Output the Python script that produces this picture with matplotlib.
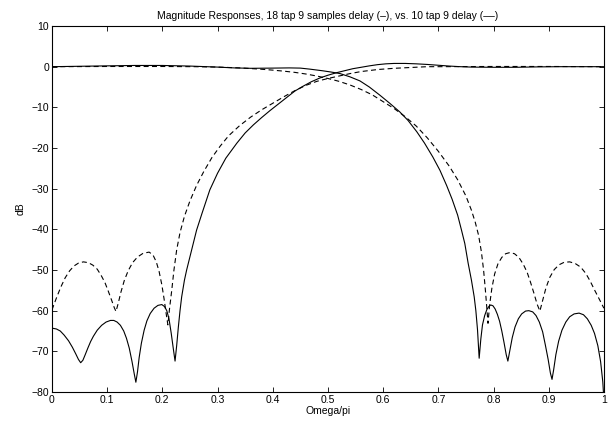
import matplotlib
matplotlib.use('Agg')
import matplotlib.pyplot as plt

plt.rcParams['font.family'] = ['Liberation Sans', 'DejaVu Sans']

# 18 tap filter pair (solid)
s_lp_x = [0.000, 0.050, 0.100, 0.150, 0.200, 0.250, 0.300, 0.330, 0.360, 0.400, 0.430, 0.450,
          0.467, 0.490, 0.505, 0.522, 0.540, 0.558, 0.575, 0.594, 0.612, 0.630, 0.645, 0.661,
          0.675, 0.690, 0.703, 0.715, 0.725, 0.735, 0.742, 0.748, 0.754, 0.760, 0.765, 0.768,
          0.771, 0.774, 0.777, 0.780, 0.784, 0.788, 0.792, 0.795, 0.799, 0.803, 0.807, 0.811,
          0.815, 0.819, 0.823, 0.826, 0.830, 0.834, 0.839, 0.845, 0.851, 0.858, 0.864, 0.871,
          0.877, 0.883, 0.889, 0.894, 0.899, 0.903, 0.906, 0.909, 0.913, 0.918, 0.924, 0.931,
          0.938, 0.946, 0.955, 0.963, 0.970, 0.977, 0.983, 0.989, 0.994, 0.998, 1.000]
s_lp_db = [0.0, 0.1, 0.2, 0.3, 0.3, 0.15, -0.1, -0.3, -0.4, -0.35, -0.3, -0.35,
           -0.6, -1.0, -1.3, -1.7, -2.5, -3.5, -5.0, -7.0, -9.0, -11.1, -13.2, -16.0,
           -18.8, -22.2, -25.5, -29.2, -32.6, -36.5, -40.2, -43.5, -48.3, -52.5, -56.6, -60.0,
           -64.7, -71.7, -67.0, -63.5, -61.2, -59.7, -58.9, -58.6, -58.8, -59.6, -60.9, -62.6,
           -65.0, -67.8, -70.8, -72.4, -69.5, -66.6, -64.0, -62.0, -60.8, -60.1, -60.0, -60.3,
           -61.2, -62.8, -65.2, -68.5, -72.0, -75.3, -76.9, -74.5, -70.8, -67.5, -64.8, -62.8,
           -61.5, -60.8, -60.6, -61.0, -62.0, -63.6, -65.6, -68.6, -72.5, -77.5, -82.0]

s_hp_x = [0.000, 0.008, 0.015, 0.022, 0.030, 0.037, 0.043, 0.048, 0.052, 0.056, 0.060, 0.065,
          0.070, 0.075, 0.082, 0.090, 0.098, 0.106, 0.112, 0.118, 0.124, 0.130, 0.135, 0.140,
          0.145, 0.149, 0.152, 0.155, 0.158, 0.162, 0.167, 0.172, 0.178, 0.185, 0.192, 0.199,
          0.204, 0.208, 0.212, 0.216, 0.220, 0.223, 0.226, 0.229, 0.232, 0.235, 0.240, 0.244,
          0.253, 0.262, 0.272, 0.286, 0.300, 0.315, 0.335, 0.350, 0.365, 0.380, 0.395, 0.410,
          0.425, 0.440, 0.455, 0.470, 0.485, 0.500, 0.515, 0.530, 0.545, 0.560, 0.575, 0.590,
          0.605, 0.620, 0.640, 0.660, 0.680, 0.700, 0.720, 0.740, 0.760, 0.800, 0.840, 0.880,
          0.920, 0.960, 1.000]
s_hp_db = [-64.3, -64.5, -65.0, -66.0, -67.4, -69.0, -70.6, -72.0, -72.8, -72.2, -70.9, -69.2,
           -67.6, -66.3, -64.8, -63.6, -62.8, -62.4, -62.4, -62.8, -63.6, -65.0, -66.8, -69.2,
           -72.5, -75.5, -77.6, -75.0, -71.5, -68.0, -64.8, -62.5, -60.7, -59.4, -58.7, -58.5,
           -59.0, -60.0, -62.0, -65.5, -69.5, -72.4, -68.5, -64.0, -60.0, -56.6, -52.5, -50.0,
           -45.1, -40.2, -36.0, -30.3, -26.2, -22.5, -18.8, -16.3, -14.3, -12.5, -10.8, -9.2,
           -7.6, -6.0, -4.8, -3.7, -2.8, -2.1, -1.5, -1.0, -0.5, -0.15, 0.2, 0.5,
           0.7, 0.8, 0.8, 0.7, 0.55, 0.35, 0.15, 0.0, -0.1, -0.15, -0.15, -0.05,
           0.0, 0.0, 0.0]

# 10 tap filter pair (dashed)
d_lp_x = [0.000, 0.100, 0.200, 0.260, 0.300, 0.340, 0.377, 0.400, 0.420, 0.440, 0.460, 0.480,
          0.500, 0.520, 0.540, 0.560, 0.580, 0.600, 0.620, 0.640, 0.660, 0.680, 0.700, 0.720,
          0.735, 0.750, 0.760, 0.767, 0.773, 0.778, 0.782, 0.785, 0.788, 0.790, 0.793, 0.797,
          0.802, 0.808, 0.815, 0.822, 0.830, 0.838, 0.846, 0.854, 0.861, 0.867, 0.873, 0.879,
          0.884, 0.889, 0.895, 0.902, 0.910, 0.919, 0.928, 0.938, 0.948, 0.958, 0.967, 0.975,
          0.983, 0.991, 1.000]
d_lp_db = [0.0, 0.05, 0.05, 0.0, -0.1, -0.3, -0.6, -0.85, -1.1, -1.4, -1.8, -2.3,
           -2.9, -3.6, -4.5, -5.6, -6.9, -8.6, -10.3, -12.3, -14.6, -17.5, -20.8, -24.5,
           -27.8, -31.8, -35.3, -38.3, -41.5, -45.5, -50.0, -54.5, -59.5, -63.1, -58.5, -54.5,
           -51.0, -48.5, -46.9, -46.0, -45.7, -46.0, -46.9, -48.6, -50.6, -53.0, -55.6, -58.4,
           -60.1, -57.5, -54.4, -51.8, -49.9, -48.7, -48.1, -48.0, -48.4, -49.3, -50.8, -52.7,
           -54.9, -57.0, -59.4]

d_hp_x = [0.000, 0.008, 0.016, 0.024, 0.032, 0.040, 0.048, 0.057, 0.066, 0.074, 0.082, 0.089,
          0.096, 0.102, 0.108, 0.113, 0.116, 0.120, 0.125, 0.131, 0.138, 0.146, 0.155, 0.165,
          0.176, 0.183, 0.189, 0.194, 0.199, 0.203, 0.207, 0.210, 0.213, 0.217, 0.221, 0.226,
          0.232, 0.240, 0.250, 0.262, 0.275, 0.290, 0.305, 0.320, 0.340, 0.360, 0.380, 0.400,
          0.420, 0.440, 0.460, 0.480, 0.500, 0.520, 0.540, 0.560, 0.590, 0.620, 0.650, 0.680,
          0.700, 0.800, 0.900, 1.000]
d_hp_db = [-59.8, -56.9, -54.2, -51.9, -50.2, -49.0, -48.3, -48.0, -48.2, -48.8, -49.8, -51.3,
           -53.1, -55.2, -57.4, -59.3, -60.2, -58.2, -55.4, -52.6, -50.2, -48.2, -46.8, -45.9,
           -45.6, -46.3, -48.0, -50.3, -53.6, -57.0, -60.8, -63.5, -59.5, -55.0, -50.0, -45.0,
           -40.8, -36.8, -33.0, -29.2, -25.8, -22.3, -19.5, -17.0, -14.5, -12.4, -10.6, -9.0,
           -7.4, -5.9, -4.6, -3.6, -2.9, -2.3, -1.7, -1.2, -0.7, -0.4, -0.2, 0.0,
           0.0, 0.05, 0.05, 0.0]

x_ticks = [0, 0.1, 0.2, 0.3, 0.4, 0.5, 0.6, 0.7, 0.8, 0.9, 1]
x_labels = ['0', '0.1', '0.2', '0.3', '0.4', '0.5', '0.6', '0.7', '0.8', '0.9', '1']
y_ticks = [-80, -70, -60, -50, -40, -30, -20, -10, 0, 10]

fig = plt.figure(figsize=(6.1, 4.21), dpi=100)
ax = fig.add_axes([0.0852, 0.0689, 0.9048, 0.8693])

ax.plot(s_lp_x, s_lp_db, color='black', lw=0.8)
ax.plot(s_hp_x, s_hp_db, color='black', lw=0.8)
ax.plot(d_lp_x, d_lp_db, color='black', lw=0.8, dashes=(4.5, 3))
ax.plot(d_hp_x, d_hp_db, color='black', lw=0.8, dashes=(4.5, 3))

ax.set_xlim(0, 1)
ax.set_ylim(-80, 10)
ax.set_xticks(x_ticks)
ax.set_xticklabels(x_labels)
ax.set_yticks(y_ticks)
ax.tick_params(direction='in', top=True, right=True, length=3.5, width=0.6,
               labelsize=7.5, pad=2)
for sp in ax.spines.values():
    sp.set_linewidth(0.8)

ax.set_xlabel('Omega/pi', fontsize=7.5, labelpad=1)
ax.set_ylabel('dB', fontsize=7.5, labelpad=4)
ax.set_title('Magnitude Responses, 18 tap 9 samples delay (\u2013), vs. 10 tap 9 delay (\u2013\u2013)',
             fontsize=7.5, pad=5)

plt.savefig('out.png', dpi=100)
